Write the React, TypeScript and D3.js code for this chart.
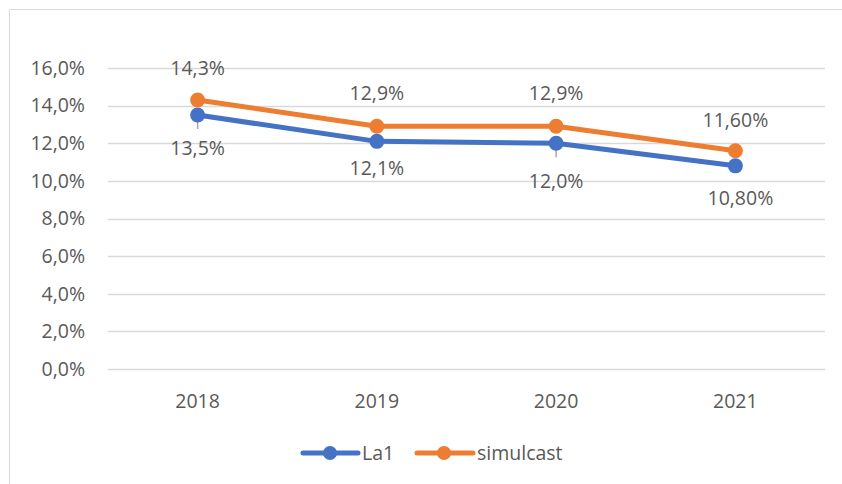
import * as d3 from 'd3';

const years = ['2018', '2019', '2020', '2021'];
const la1 = [13.5, 12.1, 12.0, 10.8];
const simulcast = [14.3, 12.9, 12.9, 11.6];
const la1Labels = ['13,5%', '12,1%', '12,0%', '10,80%'];
const simulcastLabels = ['14,3%', '12,9%', '12,9%', '11,60%'];
const yTicks = [0, 2, 4, 6, 8, 10, 12, 14, 16];

// label placement (px offsets from the point), like Excel put them
const la1LabelDy = [40, 34, 45, 39];
const la1LabelDx = [0, 0, 0, 5];
const la1Leader = [true, false, true, false];
const simLabelDy = [-25, -26, -26, -24];

const width = 842;
const height = 484;
const marginLeft = 108;
const marginRight = 17;
const marginTop = 68;
const plotBottom = 369;

const font = '"Open Sans", "Liberation Sans", Arial, sans-serif';
const fontSize = 19.5;
const textColor = '#595959';
const blue = '#4472C4';
const orange = '#ED7D31';

export default function App() {
  const x = d3.scaleBand<string>()
    .domain(years)
    .range([marginLeft, width - marginRight]);
  const cx = (d: string) => (x(d) as number) + x.bandwidth() / 2;

  const y = d3.scaleLinear().domain([0, 16]).range([plotBottom, marginTop]);

  const line = d3.line<number>()
    .x((_, i) => cx(years[i]))
    .y(d => y(d));

  const fmtTick = (v: number) => v.toFixed(1).replace('.', ',') + '%';

  return (
    <svg width={width} height={height} style={{ position: 'absolute', left: 0, top: 0, background: '#fff' }}>
      <line x1={9.5} y1={9.5} x2={width} y2={9.5} stroke="#D9D9D9" strokeWidth={1} />
      <line x1={9.5} y1={9.5} x2={9.5} y2={height} stroke="#D9D9D9" strokeWidth={1} />

      {yTicks.map(t => (
        <g key={t}>
          <line x1={marginLeft} x2={width - marginRight} y1={Math.round(y(t)) + 0.5} y2={Math.round(y(t)) + 0.5} stroke="#D9D9D9" strokeWidth={1.5} />
          <text x={85} y={y(t)} dy="0.35em" textAnchor="end" fontFamily={font} fontSize={fontSize} fill={textColor}>{fmtTick(t)}</text>
        </g>
      ))}

      {years.map(yr => (
        <text key={yr} x={cx(yr)} y={408} textAnchor="middle" fontFamily={font} fontSize={fontSize} fill={textColor}>{yr}</text>
      ))}

      {la1.map((v, i) => la1Leader[i] ? (
        <line key={'ld' + i} x1={cx(years[i])} x2={cx(years[i])} y1={y(v)} y2={y(v) + 14} stroke="#A6A6A6" strokeWidth={1.5} />
      ) : null)}

      <path d={line(la1) || ''} fill="none" stroke={blue} strokeWidth={5} strokeLinejoin="round" />
      <path d={line(simulcast) || ''} fill="none" stroke={orange} strokeWidth={5} strokeLinejoin="round" />
      {la1.map((v, i) => <circle key={'b' + i} cx={cx(years[i])} cy={y(v)} r={7.5} fill={blue} />)}
      {simulcast.map((v, i) => <circle key={'o' + i} cx={cx(years[i])} cy={y(v)} r={7.5} fill={orange} />)}

      {simulcast.map((v, i) => (
        <text key={'ol' + i} x={cx(years[i])} y={y(v) + simLabelDy[i]} textAnchor="middle" fontFamily={font} fontSize={fontSize} fill={textColor}>{simulcastLabels[i]}</text>
      ))}
      {la1.map((v, i) => (
        <text key={'bl' + i} x={cx(years[i]) + la1LabelDx[i]} y={y(v) + la1LabelDy[i]} textAnchor="middle" fontFamily={font} fontSize={fontSize} fill={textColor}>{la1Labels[i]}</text>
      ))}

      <g>
        <line x1={303} x2={358} y1={453} y2={453} stroke={blue} strokeWidth={5} strokeLinecap="round" />
        <circle cx={330} cy={453} r={7} fill={blue} />
        <text x={362} y={453} dy="0.35em" fontFamily={font} fontSize={fontSize} fill={textColor}>La1</text>
        <line x1={417} x2={473} y1={453} y2={453} stroke={orange} strokeWidth={5} strokeLinecap="round" />
        <circle cx={444} cy={453} r={7} fill={orange} />
        <text x={477} y={453} dy="0.35em" fontFamily={font} fontSize={fontSize} fill={textColor}>simulcast</text>
      </g>
    </svg>
  );
}
